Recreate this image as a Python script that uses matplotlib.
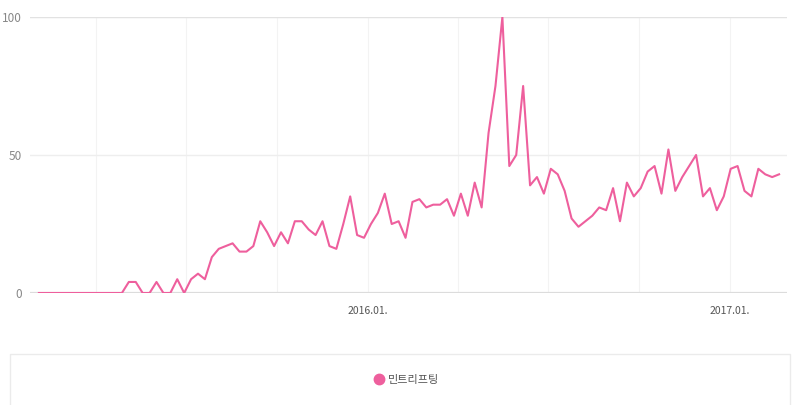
import matplotlib
matplotlib.use("Agg")
import matplotlib.pyplot as plt
import matplotlib.dates as mdates
from matplotlib.patches import Rectangle
from matplotlib.lines import Line2D
import datetime as dt

plt.rcParams['font.family'] = ['Noto Sans CJK KR', 'DejaVu Sans']

# weekly search index, first week starts 2015-02-02
start_week = dt.date(2015, 2, 2)
series_name = "민트리프팅"
values = [
    0, 0, 0, 0, 0, 0, 0, 0, 0, 0, 0, 0, 0,
    4, 4, 0, 0, 4, 0, 0, 5, 0, 5, 7, 5, 13, 16, 17, 18, 15, 15, 17,
    26, 22, 17, 22, 18, 26, 26, 23, 21, 26, 17, 16, 25, 35, 21, 20,
    25, 29, 36, 25, 26, 20, 33, 34, 31, 32, 32, 34, 28, 36, 28, 40,
    31, 58, 75, 100, 46, 50, 75, 39, 42, 36, 45, 43, 37, 27, 24, 26,
    28, 31, 30, 38, 26, 40, 35, 38, 44, 46, 36, 52, 37, 42, 46, 50,
    35, 38, 30, 35, 45, 46, 37, 35, 45, 43, 42, 43,
]
dates = [start_week + dt.timedelta(weeks=i) for i in range(len(values))]

y_ticks = [0, 50, 100]

line_color = "#ee5f9d"

fig = plt.figure(figsize=(8, 4.05), dpi=100)
ax = fig.add_axes([30 / 800, 112 / 405, 757 / 800, 276 / 405])

ax.plot(dates, values, color=line_color, lw=1.5, zorder=3)

ax.set_ylim(0, 100)
ax.set_xlim(dates[0] - dt.timedelta(days=9), dates[-1] + dt.timedelta(days=8))

# quarterly gridlines, labels only in January
ax.xaxis.set_minor_locator(mdates.MonthLocator(bymonth=[1, 4, 7, 10]))
ax.xaxis.set_major_locator(mdates.YearLocator())
ax.xaxis.set_major_formatter(mdates.DateFormatter("%Y.%m."))
ax.grid(True, which="both", axis="x", color="#f3f3f3", lw=0.8)
ax.set_yticks(y_ticks)
ax.set_yticklabels([str(t) for t in y_ticks])
ax.grid(True, which="major", axis="y", color="#eeeeee", lw=1.0)
ax.axhline(0, color="#dcdcdc", lw=1.6, zorder=2)
ax.axhline(100, color="#e2e2e2", lw=1.6, zorder=2)

ax.tick_params(axis="both", which="both", length=0)
ax.tick_params(axis="y", labelsize=8.5, labelcolor="#888888", pad=6)
ax.tick_params(axis="x", labelsize=7.5, labelcolor="#555555", pad=9)
for s in ax.spines.values():
    s.set_visible(False)

# legend box at the bottom
fig.patches.append(Rectangle((10 / 800, -0.01), 780 / 800, 51 / 405 + 0.01,
                             transform=fig.transFigure, facecolor="white",
                             edgecolor="#ebebeb", lw=1.0))
handle = Line2D([], [], marker="o", linestyle="None", markersize=7.5,
                markerfacecolor=line_color, markeredgecolor=line_color)
fig.legend([handle], [series_name], loc="center",
           bbox_to_anchor=(406 / 800, 1 - 380 / 405), frameon=False,
           fontsize=8, labelcolor="#555555", handletextpad=0.3,
           handlelength=1.0)

fig.savefig("out.png", dpi=100)
